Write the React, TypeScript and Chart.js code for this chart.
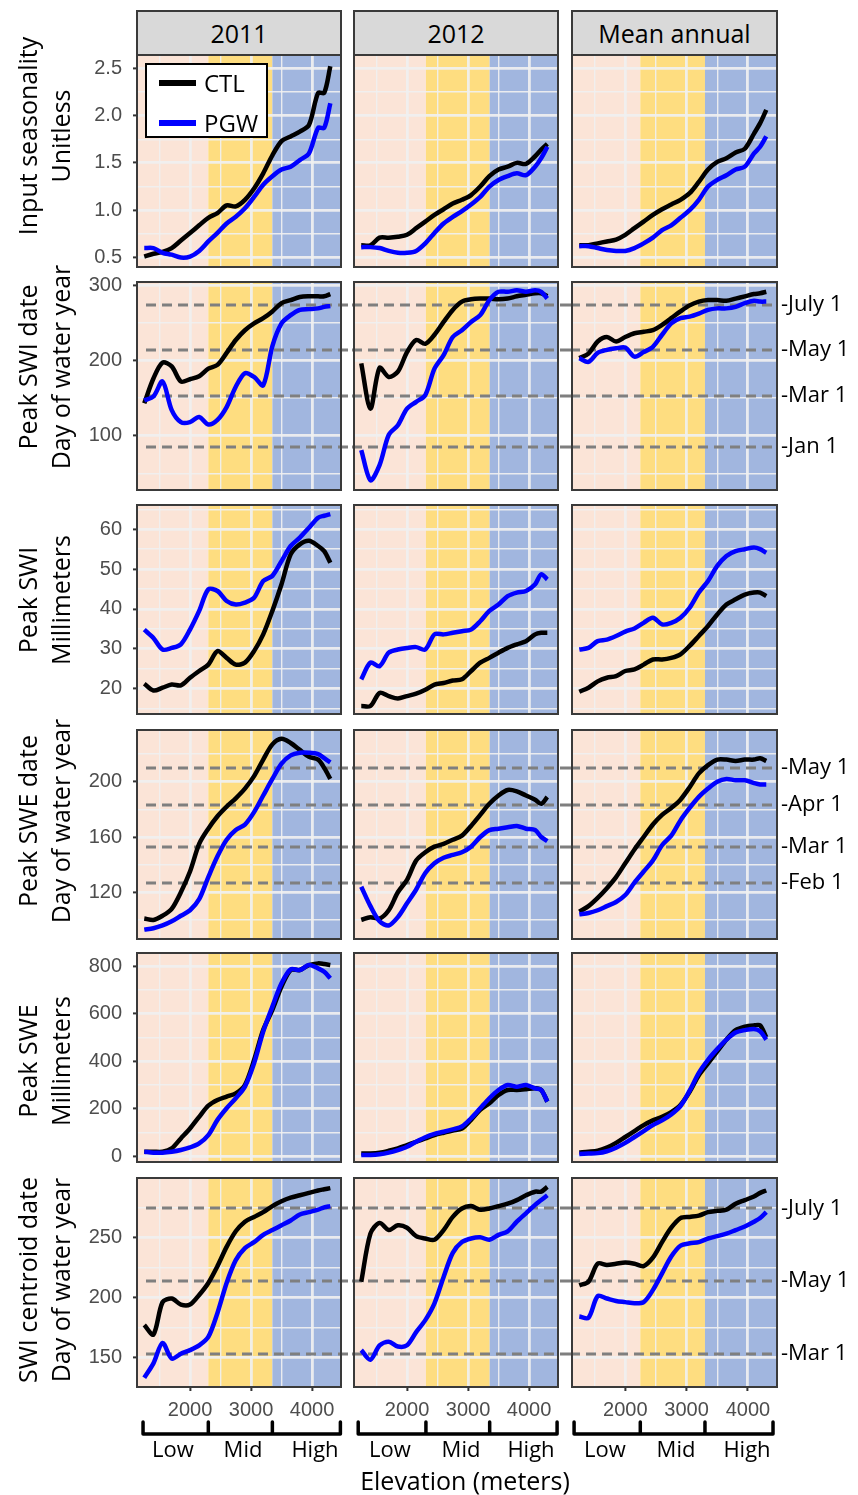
import React, { useEffect, useRef } from 'react';
import { Chart, registerables } from 'chart.js';
Chart.register(...registerables);

// ---------------- DATA ----------------
const elevation = [1250, 1400, 1550, 1700, 1850, 2000, 2150, 2300, 2450, 2600, 2750, 2900, 3050, 3200, 3350, 3500, 3650, 3800, 3950, 4100, 4200, 4300];

const columnTitles = ['2011', '2012', 'Mean annual'];
const seriesNames = ['CTL', 'PGW'];

// Input seasonality (unitless)
const season2011CTL = [0.51, 0.54, 0.56, 0.6, 0.68, 0.76, 0.84, 0.92, 0.97, 1.05, 1.04, 1.11, 1.23, 1.39, 1.58, 1.73, 1.78, 1.83, 1.9, 2.24, 2.24, 2.52];
const season2011PGW = [0.6, 0.6, 0.55, 0.53, 0.5, 0.51, 0.57, 0.67, 0.76, 0.86, 0.93, 1.02, 1.14, 1.27, 1.36, 1.43, 1.46, 1.53, 1.6, 1.87, 1.87, 2.13];
const season2012CTL = [0.63, 0.63, 0.71, 0.71, 0.72, 0.74, 0.81, 0.88, 0.95, 1.01, 1.07, 1.11, 1.16, 1.25, 1.36, 1.43, 1.46, 1.5, 1.49, 1.57, 1.64, 1.7];
const season2012PGW = [0.61, 0.61, 0.6, 0.57, 0.55, 0.55, 0.57, 0.65, 0.76, 0.86, 0.93, 0.99, 1.06, 1.14, 1.25, 1.32, 1.36, 1.39, 1.37, 1.46, 1.55, 1.67];
const seasonMeanCTL = [0.63, 0.63, 0.65, 0.67, 0.69, 0.74, 0.81, 0.88, 0.95, 1.01, 1.06, 1.11, 1.18, 1.3, 1.43, 1.51, 1.55, 1.61, 1.65, 1.81, 1.92, 2.06];
const seasonMeanPGW = [0.62, 0.62, 0.6, 0.58, 0.57, 0.57, 0.6, 0.65, 0.71, 0.79, 0.84, 0.92, 1.0, 1.11, 1.25, 1.32, 1.37, 1.43, 1.46, 1.6, 1.67, 1.78];

// Peak SWI date (day of water year)
const swiDate2011CTL = [143, 176, 197, 192, 172, 175, 179, 189, 194, 210, 227, 240, 249, 256, 265, 276, 280, 284, 285, 285, 285, 288];
const swiDate2011PGW = [147, 152, 172, 134, 118, 118, 125, 115, 121, 138, 165, 183, 178, 167, 219, 249, 260, 267, 268, 269, 271, 272];
const swiDate2012CTL = [196, 136, 190, 178, 185, 211, 227, 222, 234, 251, 267, 278, 281, 282, 282, 281, 282, 285, 287, 289, 289, 285];
const swiDate2012PGW = [81, 41, 61, 101, 114, 136, 145, 154, 189, 207, 231, 240, 251, 260, 280, 291, 291, 293, 291, 293, 291, 282];
const swiDateMeanCTL = [203, 209, 225, 231, 225, 231, 236, 238, 240, 247, 256, 265, 273, 278, 280, 280, 279, 282, 285, 288, 289, 291];
const swiDateMeanPGW = [203, 198, 210, 214, 216, 217, 205, 211, 218, 234, 249, 256, 258, 262, 267, 269, 269, 271, 276, 279, 278, 278];

// Peak SWI (mm)
const swi2011CTL = [21.2, 19.5, 20.2, 21.0, 20.8, 22.7, 24.4, 26.0, 29.4, 27.7, 26.0, 26.5, 29.4, 33.6, 39.5, 46.2, 53.7, 56.2, 57.1, 55.8, 54.5, 51.6];
const swi2011PGW = [34.8, 32.7, 29.8, 30.2, 31.1, 34.8, 39.5, 44.9, 44.5, 42.0, 41.1, 41.6, 42.8, 47.0, 48.3, 52.0, 55.8, 57.9, 60.4, 62.9, 63.4, 63.8];
const swi2012CTL = [15.6, 15.6, 18.9, 18.1, 17.5, 18.1, 18.7, 19.7, 21.0, 21.4, 22.0, 22.3, 24.4, 26.5, 27.7, 29.0, 30.2, 31.1, 31.9, 33.6, 34.0, 34.0];
const swi2012PGW = [22.3, 26.5, 25.6, 29.0, 29.8, 30.2, 30.4, 29.8, 33.6, 33.6, 34.0, 34.4, 34.8, 36.9, 39.5, 41.1, 43.2, 44.1, 44.5, 46.2, 48.7, 47.4];
const swiMeanCTL = [19.2, 20.2, 21.8, 22.7, 23.1, 24.4, 24.8, 26.0, 27.3, 27.3, 27.7, 28.6, 30.7, 33.2, 35.7, 38.6, 41.1, 42.4, 43.6, 44.1, 44.1, 43.2];
const swiMeanPGW = [29.8, 30.2, 31.9, 32.3, 33.2, 34.3, 35.1, 36.5, 37.8, 36.1, 36.5, 37.8, 40.3, 44.1, 47.0, 50.8, 53.3, 54.5, 55.0, 55.4, 55.0, 54.1];

// Peak SWE date (day of water year)
const sweDate2011CTL = [101, 100, 103, 108, 120, 135, 155, 166, 175, 182, 188, 195, 204, 216, 227, 231, 228, 223, 218, 216, 210, 202];
const sweDate2011PGW = [93, 94, 96, 99, 103, 107, 115, 131, 146, 158, 165, 169, 178, 190, 202, 213, 219, 221, 221, 220, 217, 214];
const sweDate2012CTL = [100, 102, 101, 107, 120, 129, 143, 149, 153, 155, 158, 161, 168, 176, 184, 190, 194, 193, 190, 187, 184, 189];
const sweDate2012PGW = [124, 110, 99, 96, 102, 112, 122, 134, 141, 145, 147, 149, 153, 160, 165, 166, 167, 168, 166, 165, 160, 157];
const sweDateMeanCTL = [106, 110, 116, 123, 131, 141, 151, 160, 169, 176, 181, 187, 196, 206, 212, 216, 216, 215, 216, 216, 217, 215];
const sweDateMeanPGW = [104, 105, 107, 110, 113, 118, 127, 135, 143, 154, 161, 172, 181, 189, 195, 200, 202, 201, 201, 199, 198, 198];

// Peak SWE (mm)
const swe2011CTL = [18, 18, 18, 32, 74, 116, 165, 212, 236, 250, 264, 299, 404, 531, 615, 713, 783, 783, 804, 811, 808, 804];
const swe2011PGW = [18, 14, 14, 18, 25, 36, 53, 88, 152, 201, 243, 292, 390, 524, 629, 727, 786, 783, 804, 790, 776, 748];
const swe2012CTL = [11, 11, 14, 22, 32, 46, 60, 74, 88, 98, 107, 116, 152, 194, 222, 257, 278, 278, 281, 285, 278, 229];
const swe2012PGW = [4, 4, 7, 14, 25, 39, 60, 79, 93, 102, 112, 124, 159, 201, 243, 278, 299, 292, 299, 285, 278, 229];
const sweMeanCTL = [15, 18, 22, 35, 55, 80, 105, 130, 150, 165, 185, 215, 270, 340, 390, 440, 490, 530, 545, 550, 550, 500];
const sweMeanPGW = [8, 10, 12, 20, 35, 55, 80, 105, 130, 150, 175, 210, 275, 350, 405, 450, 490, 520, 530, 535, 525, 490];

// SWI centroid date (day of water year)
const centroid2011CTL = [177, 169, 196, 199, 194, 194, 202, 212, 226, 242, 255, 263, 267, 271, 276, 280, 283, 285, 287, 289, 290, 291];
const centroid2011PGW = [133, 145, 162, 149, 153, 156, 160, 167, 187, 212, 231, 241, 246, 252, 256, 260, 264, 269, 271, 273, 275, 276];
const centroid2012CTL = [213, 253, 262, 256, 260, 258, 251, 249, 248, 256, 267, 274, 276, 273, 274, 276, 278, 281, 285, 288, 288, 292];
const centroid2012PGW = [156, 148, 160, 163, 159, 160, 171, 181, 195, 217, 237, 246, 249, 250, 248, 252, 255, 263, 270, 277, 281, 285];
const centroidMeanCTL = [210, 213, 228, 227, 228, 229, 228, 226, 233, 246, 258, 266, 267, 268, 271, 272, 273, 278, 281, 284, 287, 289];
const centroidMeanPGW = [184, 183, 201, 199, 197, 196, 195, 196, 206, 220, 234, 243, 245, 246, 249, 251, 253, 256, 259, 263, 266, 271];

// Row titles
const rowTitles = [
  ['Input seasonality', 'Unitless'],
  ['Peak SWI date', 'Day of water year'],
  ['Peak SWI', 'Millimeters'],
  ['Peak SWE date', 'Day of water year'],
  ['Peak SWE', 'Millimeters'],
  ['SWI centroid date', 'Day of water year'],
];

// Axis ticks (major labelled, minor grid only)
const seasonMajor = [0.5, 1.0, 1.5, 2.0, 2.5];
const seasonMinor = [0.75, 1.25, 1.75, 2.25];
const swiDateMajor = [100, 200, 300];
const swiDateMinor = [50, 150, 250];
const swiMajor = [20, 30, 40, 50, 60];
const swiMinor = [15, 25, 35, 45, 55, 65];
const sweDateMajor = [120, 160, 200];
const sweDateMinor = [100, 140, 180, 220];
const sweMajor = [0, 200, 400, 600, 800];
const sweMinor = [100, 300, 500, 700];
const centroidMajor = [150, 200, 250];
const centroidMinor = [175, 225, 275];
const elevationMajor = [2000, 3000, 4000];
const elevationMinor = [1500, 2500, 3500];

// Reference dates (dashed lines)
const swiDateRefDays = [274, 214, 153, 85];
const swiDateRefLabels = ['July 1', 'May 1', 'Mar 1', 'Jan 1'];
const sweDateRefDays = [210, 183, 153, 127];
const sweDateRefLabels = ['May 1', 'Apr 1', 'Mar 1', 'Feb 1'];
const centroidRefDays = [274, 214, 153];
const centroidRefLabels = ['July 1', 'May 1', 'Mar 1'];

// Elevation classes
const bandNames = ['Low', 'Mid', 'High'];
const lowMidBoundary = [2300, 2310, 2245];
const midHighBoundary = [3350, 3355, 3300];
const bracketStart = [1230, 1200, 1165];
const bracketEnd = [4465, 4460, 4410];

// ---------------- ASSEMBLY ----------------
const ctlSeries = [
  [season2011CTL, season2012CTL, seasonMeanCTL],
  [swiDate2011CTL, swiDate2012CTL, swiDateMeanCTL],
  [swi2011CTL, swi2012CTL, swiMeanCTL],
  [sweDate2011CTL, sweDate2012CTL, sweDateMeanCTL],
  [swe2011CTL, swe2012CTL, sweMeanCTL],
  [centroid2011CTL, centroid2012CTL, centroidMeanCTL],
];
const pgwSeries = [
  [season2011PGW, season2012PGW, seasonMeanPGW],
  [swiDate2011PGW, swiDate2012PGW, swiDateMeanPGW],
  [swi2011PGW, swi2012PGW, swiMeanPGW],
  [sweDate2011PGW, sweDate2012PGW, sweDateMeanPGW],
  [swe2011PGW, swe2012PGW, sweMeanPGW],
  [centroid2011PGW, centroid2012PGW, centroidMeanPGW],
];
const rowMajor = [seasonMajor, swiDateMajor, swiMajor, sweDateMajor, sweMajor, centroidMajor];
const rowMinor = [seasonMinor, swiDateMinor, swiMinor, sweDateMinor, sweMinor, centroidMinor];
const rowLimits = [
  [0.4, 2.64],
  [28, 304],
  [13.6, 66.1],
  [86.2, 237.4],
  [-25.3, 854.7],
  [125.3, 299.4],
];
const rowRefDays = [[], swiDateRefDays, [], sweDateRefDays, [], centroidRefDays];
const rowRefLabels = [[], swiDateRefLabels, [], sweDateRefLabels, [], centroidRefLabels];

// ---------------- LAYOUT / STYLE ----------------
const X_MIN = 1131;
const X_MAX = 4475;
const colLeft = [137, 354, 572];
const colWidth = [204, 204, 205];
const rowTop = [55, 282, 505, 730, 953, 1178];
const rowHeight = [212, 208, 209, 209, 209, 209];
const rowTitleCenter = [136, 367, 600, 821, 1061, 1280];
const bandLabelX = [
  [173, 243, 315],
  [390, 461, 531],
  [605, 676, 747],
];

const FONT = '"Open Sans", "DejaVu Sans", sans-serif';
const TICK_FONT = '"Liberation Sans", Arial, sans-serif';
const PINK = '#FBE4D7';
const YELLOW = '#FEDD80';
const BLUE = '#A1B6DF';
const GRID = 'rgba(240,240,240,0.92)';
const FRAME = '#3a3a3a';
const CTL_COLOR = '#000000';
const PGW_COLOR = '#0000FF';

function geometry(r: number, c: number) {
  const plotLeft = colLeft[c];
  const plotRight = plotLeft + colWidth[c];
  const hasRef = rowRefDays[r].length > 0;
  const isBottom = r === 5;
  const padTop = c === 0 ? 14 : 2;
  const left = c === 0 ? 70 : plotLeft - 2;
  const right = c === 0 ? colLeft[1] - 2 : c === 1 ? colLeft[2] - 2 : hasRef ? 858 : plotRight + 2;
  const top = rowTop[r] - padTop;
  const plotBottom = rowTop[r] + rowHeight[r];
  const xHeight = isBottom ? 44 : 0;
  const padBottom = isBottom ? 22 : 2;
  const bottom = plotBottom + xHeight + padBottom;
  const yWidth = plotLeft - left;
  const refWidth = c === 2 && hasRef ? right - plotRight : 0;
  const padRight = c < 2 ? right - plotRight : hasRef ? 0 : 2;
  return { left, top, w: right - left, h: bottom - top, padTop, yWidth, xHeight, padBottom, refWidth, padRight, hasRef, isBottom };
}

function zeroPad(s: any) {
  s.paddingLeft = 0;
  s.paddingRight = 0;
  s.paddingTop = 0;
  s.paddingBottom = 0;
}

function buildConfig(r: number, c: number, g: ReturnType<typeof geometry>): any {
  const major = rowMajor[r];
  const minor = rowMinor[r];
  const yTicks = [...minor, ...major].sort((a, b) => a - b);
  const xTicks = [...elevationMinor, ...elevationMajor].sort((a, b) => a - b);
  const refs = rowRefDays[r];
  const refLabels = rowRefLabels[r];
  const [yMin, yMax] = rowLimits[r];

  const bandsPlugin = {
    id: 'bands',
    beforeDraw(chart: any) {
      const { ctx, chartArea, scales } = chart;
      const { left, right, top, bottom } = chartArea;
      const b1 = scales.x.getPixelForValue(lowMidBoundary[c]);
      const b2 = scales.x.getPixelForValue(midHighBoundary[c]);
      ctx.save();
      ctx.fillStyle = PINK;
      ctx.fillRect(left, top, b1 - left, bottom - top);
      ctx.fillStyle = YELLOW;
      ctx.fillRect(b1, top, b2 - b1, bottom - top);
      ctx.fillStyle = BLUE;
      ctx.fillRect(b2, top, right - b2, bottom - top);
      ctx.restore();
    },
    beforeDatasetsDraw(chart: any) {
      if (!refs.length) return;
      const { ctx, chartArea, scales, width } = chart;
      const x0 = c === 0 ? chartArea.left + 9 : 0;
      const x1 = c === 2 ? chartArea.right - 3 : width;
      ctx.save();
      ctx.strokeStyle = '#7F7F7F';
      ctx.lineWidth = 3;
      ctx.setLineDash([10, 6]);
      refs.forEach((d) => {
        const y = Math.round(scales.y.getPixelForValue(d));
        ctx.beginPath();
        ctx.moveTo(x0, y);
        ctx.lineTo(x1, y);
        ctx.stroke();
      });
      ctx.restore();
    },
    afterDraw(chart: any) {
      const { ctx, chartArea, scales } = chart;
      const { left, right, top, bottom } = chartArea;
      ctx.save();
      ctx.strokeStyle = FRAME;
      ctx.lineWidth = 2;
      ctx.strokeRect(left, top, right - left, bottom - top);
      if (g.isBottom) {
        const xs = [bracketStart[c], lowMidBoundary[c], midHighBoundary[c], bracketEnd[c]].map((v) => scales.x.getPixelForValue(v));
        const yb = bottom + 47;
        const yt = bottom + 35;
        ctx.strokeStyle = '#000';
        ctx.lineWidth = 3.5;
        ctx.lineCap = 'round';
        ctx.lineJoin = 'round';
        ctx.beginPath();
        ctx.moveTo(xs[0], yb);
        ctx.lineTo(xs[3], yb);
        xs.forEach((x) => {
          ctx.moveTo(x, yt);
          ctx.lineTo(x, yb);
        });
        ctx.stroke();
      }
      ctx.restore();
    },
  };

  const scales: any = {
    x: {
      type: 'linear',
      min: X_MIN,
      max: X_MAX,
      afterBuildTicks: (s: any) => {
        s.ticks = xTicks.map((v) => ({ value: v }));
      },
      afterFit: (s: any) => {
        s.height = g.xHeight;
        zeroPad(s);
      },
      ticks: {
        display: g.isBottom,
        autoSkip: false,
        maxRotation: 0,
        minRotation: 0,
        padding: 7,
        color: '#4D4D4D',
        font: { family: TICK_FONT, size: 20 },
        callback: (v: number) => (elevationMajor.includes(v) ? String(v) : ''),
      },
      grid: {
        color: GRID,
        lineWidth: (ctx: any) => (ctx.tick && elevationMajor.includes(ctx.tick.value) ? 2.8 : 1.4),
        drawTicks: g.isBottom,
        tickLength: 4,
        tickWidth: 2,
        tickColor: (ctx: any) => (ctx.tick && elevationMajor.includes(ctx.tick.value) ? '#333' : 'rgba(0,0,0,0)'),
      },
      border: { display: false },
    },
    y: {
      type: 'linear',
      min: yMin,
      max: yMax,
      afterBuildTicks: (s: any) => {
        s.ticks = yTicks.map((v) => ({ value: v }));
      },
      afterFit: (s: any) => {
        s.width = g.yWidth;
        zeroPad(s);
      },
      ticks: {
        display: c === 0,
        autoSkip: false,
        padding: 11,
        color: '#4D4D4D',
        font: { family: TICK_FONT, size: 20 },
        callback: (v: number) => (major.includes(v) ? (r === 0 ? v.toFixed(1) : String(v)) : ''),
      },
      grid: {
        color: GRID,
        lineWidth: (ctx: any) => (ctx.tick && major.includes(ctx.tick.value) ? 2.8 : 1.4),
        drawTicks: c === 0,
        tickLength: 4,
        tickWidth: 2,
        tickColor: (ctx: any) => (ctx.tick && major.includes(ctx.tick.value) ? '#333' : 'rgba(0,0,0,0)'),
      },
      border: { display: false },
    },
  };

  if (g.refWidth > 0) {
    scales.yRef = {
      type: 'linear',
      position: 'right',
      min: yMin,
      max: yMax,
      afterBuildTicks: (s: any) => {
        s.ticks = refs.map((v) => ({ value: v }));
      },
      afterFit: (s: any) => {
        s.width = g.refWidth;
        zeroPad(s);
      },
      ticks: {
        autoSkip: false,
        padding: 4,
        color: '#000',
        font: { family: FONT, size: 22 },
        callback: (v: number) => '-' + refLabels[refs.indexOf(v)],
      },
      grid: { display: false, drawOnChartArea: false, drawTicks: false },
      border: { display: false },
    };
  }

  const toPoints = (arr: number[]) => elevation.map((e, i) => ({ x: e, y: arr[i] }));

  return {
    type: 'line',
    data: {
      datasets: [
        { label: seriesNames[1], data: toPoints(pgwSeries[r][c]), borderColor: PGW_COLOR, borderWidth: 4.5, pointRadius: 0, tension: 0.3, fill: false },
        { label: seriesNames[0], data: toPoints(ctlSeries[r][c]), borderColor: CTL_COLOR, borderWidth: 4.5, pointRadius: 0, tension: 0.3, fill: false },
      ],
    },
    options: {
      animation: false,
      responsive: false,
      devicePixelRatio: 1,
      events: [],
      layout: { autoPadding: false, padding: { top: g.padTop, left: 0, right: g.padRight, bottom: g.padBottom } },
      plugins: { legend: { display: false }, tooltip: { enabled: false }, title: { display: false } },
      scales,
    },
    plugins: [bandsPlugin],
  };
}

function Panel({ r, c }: { r: number; c: number }) {
  const ref = useRef<HTMLCanvasElement>(null);
  const g = geometry(r, c);
  useEffect(() => {
    const chart = new Chart(ref.current as HTMLCanvasElement, buildConfig(r, c, g));
    return () => chart.destroy();
  }, []);
  return (
    <canvas
      ref={ref}
      width={g.w}
      height={g.h}
      style={{ position: 'absolute', left: g.left, top: g.top, width: g.w, height: g.h, display: 'block' }}
    />
  );
}

export default function App() {
  const panels: React.ReactNode[] = [];
  for (let r = 0; r < 6; r++) for (let c = 0; c < 3; c++) panels.push(<Panel key={`${r}-${c}`} r={r} c={c} />);

  return (
    <div style={{ position: 'absolute', left: 0, top: 0, width: 858, height: 1495, background: '#fff', overflow: 'hidden', fontFamily: FONT }}>
      {panels}

      {columnTitles.map((t, c) => (
        <div
          key={t}
          style={{
            position: 'absolute',
            left: colLeft[c] - 1,
            top: 10,
            width: colWidth[c] + 2,
            height: 46,
            boxSizing: 'border-box',
            border: `2px solid ${FRAME}`,
            background: '#D9D9D9',
            fontSize: 25,
            lineHeight: '42px',
            textAlign: 'center',
            color: '#000',
          }}
        >
          {t}
        </div>
      ))}

      {rowTitles.map((lines, r) => (
        <div
          key={r}
          style={{
            position: 'absolute',
            left: 43.5 - 140,
            top: rowTitleCenter[r] - 33,
            width: 280,
            height: 66,
            transform: 'rotate(-90deg)',
            transformOrigin: 'center center',
            textAlign: 'center',
            fontSize: 25,
            lineHeight: '33px',
            color: '#000',
            whiteSpace: 'nowrap',
          }}
        >
          <div>{lines[0]}</div>
          <div>{lines[1]}</div>
        </div>
      ))}

      <div
        style={{
          position: 'absolute',
          left: 145,
          top: 63,
          width: 123,
          height: 75,
          boxSizing: 'border-box',
          border: '2px solid #000',
          background: '#fff',
        }}
      >
        <div style={{ position: 'absolute', left: 12, top: 15, width: 37, height: 6, background: CTL_COLOR }} />
        <div style={{ position: 'absolute', left: 57, top: 1, fontSize: 24, lineHeight: '33px', color: '#000' }}>{seriesNames[0]}</div>
        <div style={{ position: 'absolute', left: 12, top: 55, width: 37, height: 6, background: PGW_COLOR }} />
        <div style={{ position: 'absolute', left: 57, top: 41, fontSize: 24, lineHeight: '33px', color: '#000' }}>{seriesNames[1]}</div>
      </div>

      {bandLabelX.map((xs, c) =>
        xs.map((x, i) => (
          <div
            key={`${c}-${i}`}
            style={{ position: 'absolute', left: x - 40, top: 1448 - 15, width: 80, textAlign: 'center', fontSize: 22, lineHeight: '30px', color: '#000' }}
          >
            {bandNames[i]}
          </div>
        ))
      )}

      <div style={{ position: 'absolute', left: 465 - 160, top: 1480 - 17, width: 320, textAlign: 'center', fontSize: 25, lineHeight: '34px', color: '#000' }}>
        Elevation (meters)
      </div>
    </div>
  );
}
